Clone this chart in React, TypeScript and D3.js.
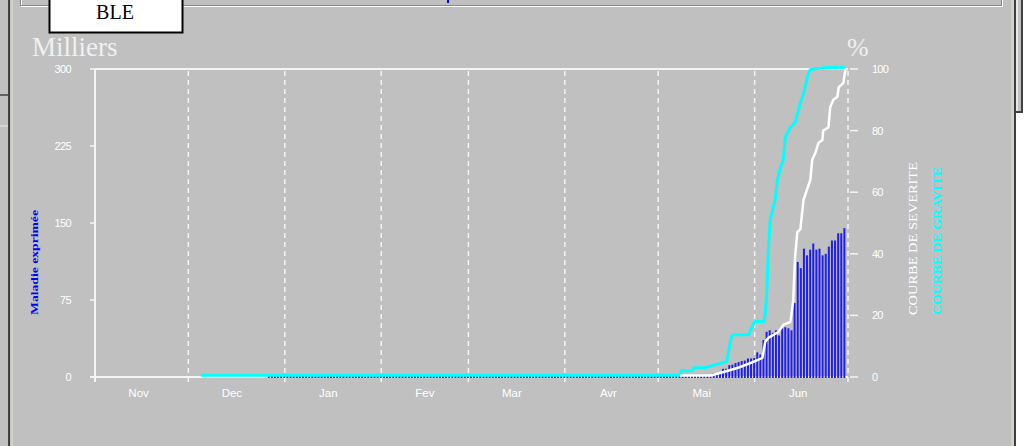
import React from "react";
import * as d3 from "d3";

// ---------- data ----------
const monthLabels = ["Nov", "Dec", "Jan", "Fev", "Mar", "Avr", "Mai", "Jun"];
const monthStartDays = [0, 30, 61, 92, 120, 151, 181, 212, 242]; // days since 1 Nov
const leftTicks = [0, 75, 150, 225, 300];
const rightTicks = [0, 20, 40, 60, 80, 100];

// daily "Maladie exprimée" (milliers), first bar on day 56
const barStartDay = 56;
const barValues = [
  1, 1, 1, 1, 1, 1, 1, 1, 1, 1, 1, 1, 1,
  1, 1, 1, 1, 1, 1, 1, 1, 1, 1, 1, 1, 1,
  1, 1, 1, 1, 1, 1, 1, 1, 1, 1, 1, 1, 1,
  1, 1, 1, 1, 1, 1, 1, 1, 1, 1, 1, 1, 1,
  1, 1, 1, 1, 1, 1, 1, 1, 1, 1, 1, 1, 1,
  1, 1, 1, 1, 1, 1, 1, 1, 1, 1, 1, 1, 1,
  1, 1, 1, 1, 1, 1, 1, 1, 1, 1, 1, 1, 1,
  1, 1, 1, 1, 1, 1, 1, 1, 1, 1, 1, 1, 1,
  1, 1, 1, 1, 1, 1, 1, 1, 1, 1, 1, 1, 1,
  1, 1, 1, 1, 1, 1, 1, 1, 1, 1, 1, 1, 1,
  1, 1, 1, 1, 1, 1, 1, 1, 1, 1, 1, 1, 1,
  3.6, 3.6, 3.6, 8, 8, 11.5, 12, 13.5, 14.5, 15.5, 16, 18, 18, 18.5, 24, 22,
  36, 44, 45.5, 43, 45.5, 40.5, 47.5, 48.5, 47.5, 45.5, 72, 112, 106,
  125, 118.5, 124, 130, 124, 125, 118.5, 120, 127, 133, 133, 140, 140, 145,
];

// COURBE DE GRAVITE (%)
const gravityDays = [34, 188, 188.5, 192, 192.5, 196, 203, 204.5, 205, 210, 212, 215, 215.5, 216, 216.4, 217, 218.6, 219.3, 220.3, 221.2, 221.9, 223.5, 225, 226.7, 227.7, 229.3, 229.9, 234, 241];
const gravityPct = [0.6, 0.6, 2, 2, 3, 3, 5, 13, 13.7, 13.7, 18, 18, 21, 30, 41, 51, 57.5, 64, 68, 70.5, 78, 81, 82.7, 89, 92, 98.7, 99.8, 100.4, 100.6];

// COURBE DE SEVERITE (%)
const severityDays = [188, 198, 202, 206.4, 209, 211.6, 214.5, 215.4, 216.4, 219.6, 221.2, 223.5, 224.4, 225, 225.7, 226.7, 227.7, 229.9, 230.5, 231.5, 232.5, 233.8, 234, 235.7, 236.3, 237.3, 238.6, 239, 240.5, 241, 241.3];
const severityPct = [0.5, 0.5, 1.6, 2.9, 3.9, 4.9, 6.2, 11.4, 12.7, 14.6, 16.9, 17.9, 25, 39, 47, 48, 57.5, 64, 70.5, 72.7, 76, 77, 80, 81, 87.7, 90, 91, 94, 95.5, 98.7, 100];

// ---------- layout ----------
const W = 1031;
const H = 446;
const PL = 95, PR = 848, PT = 69, PB = 377;
const BG = "#c0c0c0";
const WHITE = "#f4f4f4";

export default function App() {
  const x = d3.scaleLinear().domain([0, 242]).range([PL, PR]);
  const yL = d3.scaleLinear().domain([0, 300]).range([PB, PT]);
  const yR = d3.scaleLinear().domain([0, 100]).range([PB, PT]);

  const bars = barValues.map((v, i) => ({ day: barStartDay + i, v }));
  const line = d3
    .line<[number, number]>()
    .x((d) => x(d[0]))
    .y((d) => yR(d[1]));
  const gravityPath = line(gravityDays.map((d, i) => [d, gravityPct[i]]));
  const severityPath = line(severityDays.map((d, i) => [d, severityPct[i]]));

  const sans = "'Liberation Sans', Arial, sans-serif";
  const serif = "'Liberation Serif', 'Times New Roman', serif";

  return (
    <svg
      width={W}
      height={H}
      style={{ position: "absolute", left: 0, top: 0, display: "block" }}
    >
      <rect x={0} y={0} width={W} height={H} fill={BG} />

      {/* window frame, left */}
      <line x1={0} x2={8} y1={95} y2={95} stroke="#404040" strokeWidth={1.5} />
      <line x1={0} x2={8} y1={126} y2={126} stroke="#e8e8e8" strokeWidth={1} />
      <rect x={8} y={0} width={2} height={H} fill="#404040" />
      <rect x={11} y={0} width={2} height={H} fill="#d4d0c8" />

      {/* window frame, right */}
      <rect x={1011} y={0} width={3} height={H} fill="#d4d0c8" />
      <rect x={1014} y={0} width={2} height={H} fill="#404040" />
      <rect x={1016} y={0} width={15} height={H} fill="#ffffff" />
      <rect x={1016} y={0} width={7} height={113} fill={BG} />
      <rect x={1016} y={0} width={2} height={112} fill="#e8e8e8" />
      <rect x={1021} y={0} width={2} height={113} fill="#404040" />
      <rect x={1016} y={111} width={7} height={2} fill="#404040" />

      {/* top panel groove */}
      <line x1={20} x2={1002} y1={5.5} y2={5.5} stroke="#8a8a8a" strokeWidth={1} />
      <line x1={21} x2={1003} y1={6.5} y2={6.5} stroke="#ffffff" strokeWidth={1} />
      <line x1={20.5} x2={20.5} y1={0} y2={6} stroke="#8a8a8a" strokeWidth={1} />
      <line x1={21.5} x2={21.5} y1={0} y2={5} stroke="#ffffff" strokeWidth={1} />
      <line x1={1001.5} x2={1001.5} y1={0} y2={6} stroke="#8a8a8a" strokeWidth={1} />
      <line x1={1002.5} x2={1002.5} y1={0} y2={7} stroke="#ffffff" strokeWidth={1} />
      <rect x={447} y={0} width={2} height={3} fill="#0000ff" />

      {/* BLE box */}
      <rect x={49.5} y={-5} width={133} height={37.5} fill="#ffffff" stroke="#000000" strokeWidth={2} />
      <text x={115} y={19} textAnchor="middle" fontFamily={serif} fontSize={20} fill="#000000">
        BLE
      </text>

      {/* titles */}
      <text x={32} y={56} fontFamily={serif} fontSize={27} fill="#f0f0f0">
        Milliers
      </text>
      <text x={847} y={56} fontFamily={serif} fontSize={26} fill="#f0f0f0">
        %
      </text>

      {/* plot frame: top border */}
      <line x1={PL} x2={PR} y1={PT} y2={PT} stroke={WHITE} strokeWidth={2} />

      {/* dashed month gridlines */}
      {monthStartDays.slice(1).map((d) => (
        <g key={"g" + d}>
          <line
            x1={x(d)}
            x2={x(d)}
            y1={PT + 2}
            y2={PB}
            stroke={WHITE}
            strokeWidth={1.5}
            strokeDasharray="5,4"
          />
          <line x1={x(d)} x2={x(d)} y1={PB} y2={PB + 5} stroke={WHITE} strokeWidth={1.5} />
        </g>
      ))}

      {/* left axis */}
      <line x1={PL} x2={PL} y1={PT} y2={PB + 5} stroke={WHITE} strokeWidth={2} />
      <line x1={PL - 5} x2={PR} y1={PB} y2={PB} stroke={WHITE} strokeWidth={2} />
      {leftTicks.map((t) => (
        <g key={"l" + t}>
          <line x1={PL - 5} x2={PL} y1={yL(t)} y2={yL(t)} stroke={WHITE} strokeWidth={1.5} />
          <text
            x={71}
            y={yL(t)}
            dy="0.36em"
            textAnchor="end"
            fontFamily={sans}
            fontSize={11}
            letterSpacing={-0.6}
            fill="#ffffff"
          >
            {t}
          </text>
        </g>
      ))}

      {/* right axis ticks */}
      {rightTicks.map((t) => (
        <g key={"r" + t}>
          <line x1={PR + 2} x2={PR + 10} y1={yR(t)} y2={yR(t)} stroke={WHITE} strokeWidth={1.5} />
          <text
            x={872}
            y={yR(t)}
            dy="0.36em"
            textAnchor="start"
            fontFamily={sans}
            fontSize={11}
            letterSpacing={-0.8}
            fill="#ffffff"
          >
            {t}
          </text>
        </g>
      ))}

      {/* month labels */}
      {monthLabels.map((m, i) => (
        <text
          key={m}
          x={x(monthStartDays[i] + 14)}
          y={397}
          textAnchor="middle"
          fontFamily={sans}
          fontSize={11.5}
          fill="#ffffff"
        >
          {m}
        </text>
      ))}

      {/* bars */}
      {bars.map((b) => (
        <rect
          key={"b" + b.day}
          x={x(b.day) - 1.5}
          y={yL(b.v)}
          width={2}
          height={yL(0) - yL(b.v) + 1}
          fill="#1f1fe8"
        />
      ))}

      {/* curves */}
      <path d={gravityPath || ""} fill="none" stroke="#00ffff" strokeWidth={3} strokeLinejoin="round" />
      <path d={severityPath || ""} fill="none" stroke="#ffffff" strokeWidth={2.5} strokeLinejoin="round" />

      {/* rotated labels */}
      <text
        transform="translate(38,315) rotate(-90)"
        fontFamily={serif}
        fontWeight="bold"
        fontSize={11}
        textLength={105}
        lengthAdjust="spacingAndGlyphs"
        fill="#0000ff"
      >
        Maladie exprimée
      </text>
      <text
        transform="translate(917,315) rotate(-90)"
        fontFamily={serif}
        fontSize={13}
        textLength={153}
        lengthAdjust="spacingAndGlyphs"
        fill="#ffffff"
      >
        COURBE DE SEVERITE
      </text>
      <text
        transform="translate(941,315) rotate(-90)"
        fontFamily={serif}
        fontWeight="bold"
        fontSize={13}
        textLength={148}
        lengthAdjust="spacingAndGlyphs"
        fill="#00ffff"
      >
        COURBE DE GRAVITE
      </text>
    </svg>
  );
}
